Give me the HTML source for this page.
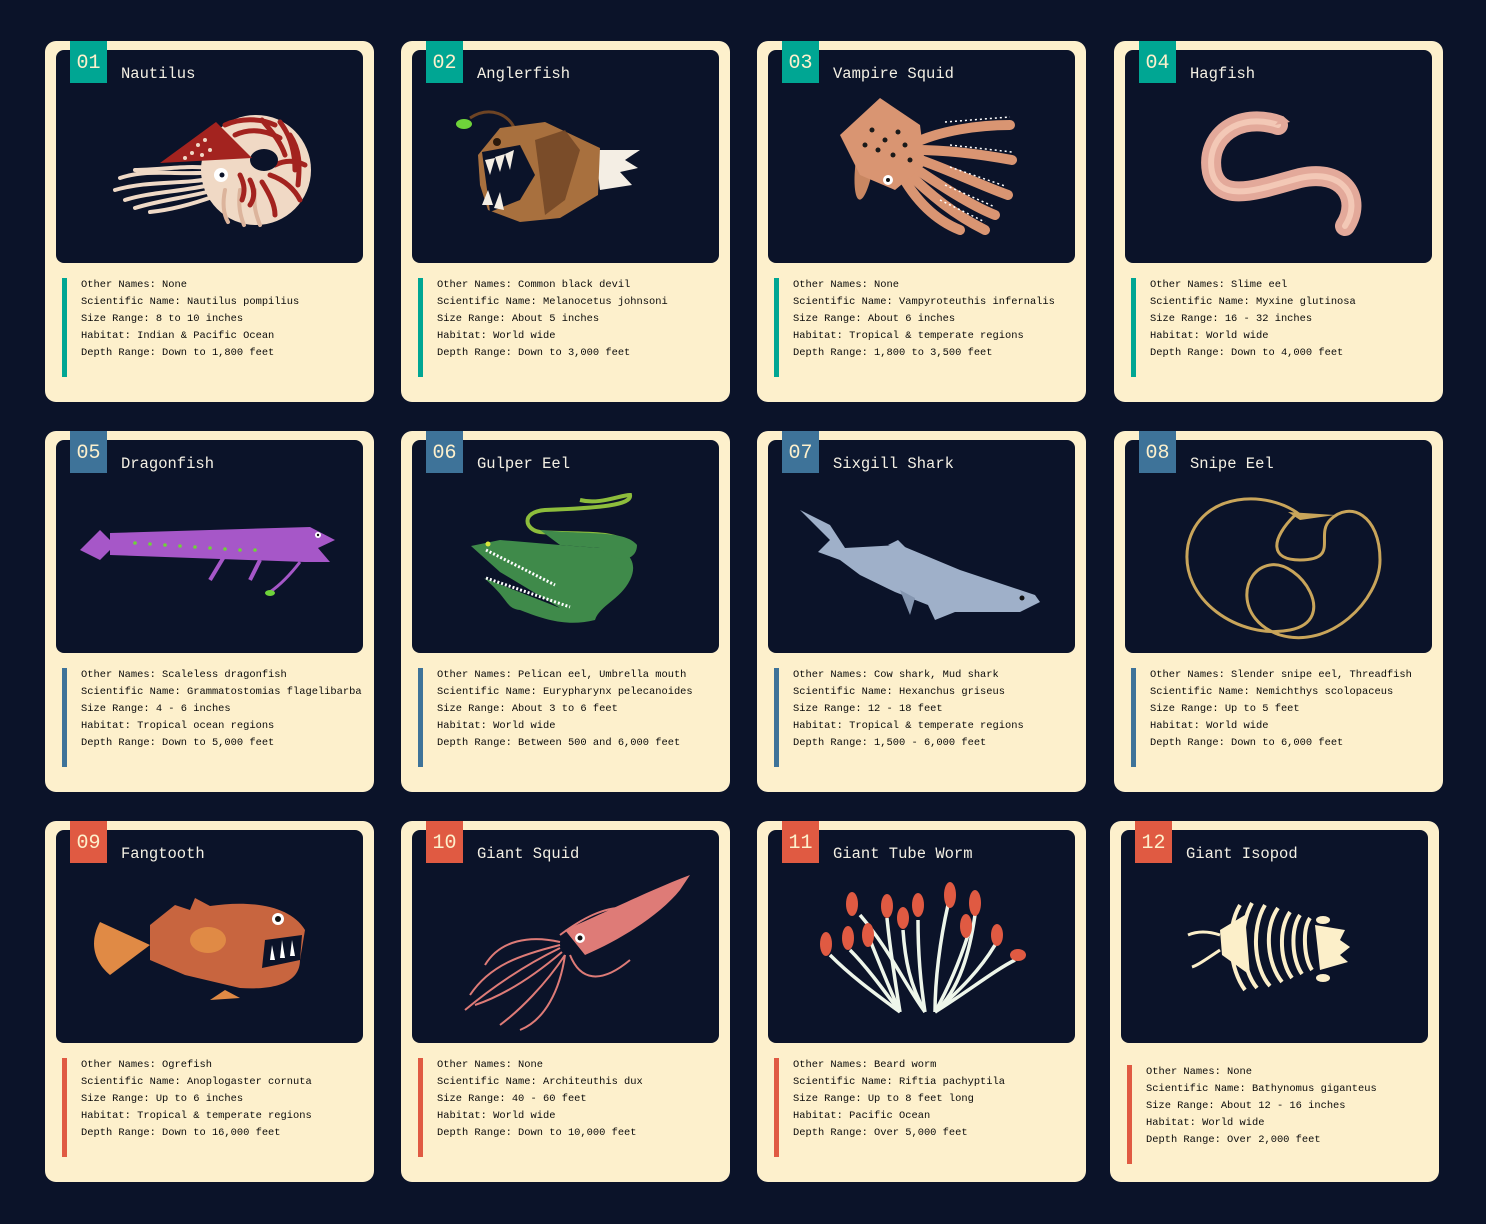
<!DOCTYPE html>
<html><head><meta charset="utf-8"><style>
html,body{margin:0;padding:0;background:#0b1329;width:1486px;height:1224px;overflow:hidden}
.card{position:absolute;width:329px;height:361px;background:#fdf0cc;border-radius:11px}
.panel{position:absolute;left:11px;top:9px;width:307px;height:213px;background:#0b1329;border-radius:8px}
.badge{position:absolute;left:25px;top:0;width:37px;height:42px;color:#fdf0cc;font:20px "Liberation Mono",monospace;text-align:center;line-height:46px}
.title{position:absolute;left:76px;top:24px;color:#f4f0e4;font:15.5px "Liberation Mono",monospace}
.bar{position:absolute;left:17px;top:237px;width:5px;height:99px}
.info{position:absolute;left:36px;top:236px;color:#0a0a0a;font:10.4px/17px "Liberation Mono",monospace;white-space:pre}
svg#art{position:absolute;left:0;top:0}
</style></head><body>
<div id="cards"></div>
<svg id="art" width="1486" height="1224">
<g>
 <g stroke="#efd9c6" stroke-width="4" stroke-linecap="round" fill="none">
  <path d="M215,172 C180,176 150,168 120,178"/><path d="M215,178 C180,185 150,180 115,190"/>
  <path d="M215,184 C180,192 150,192 125,200"/><path d="M215,190 C185,198 160,200 135,208"/>
  <path d="M210,168 C185,165 160,170 135,170"/><path d="M215,196 C190,205 170,210 150,212"/>
 </g>
 <circle cx="256" cy="170" r="55" fill="#f0d9c5"/>
 <g stroke="#dcb49c" stroke-width="4" fill="none" stroke-linecap="round"><path d="M225,190 C222,205 224,215 228,222"/><path d="M240,190 C238,205 240,215 244,225"/><path d="M255,190 C253,205 256,215 260,225"/></g>
 <g stroke="#a3231f" stroke-width="5" fill="none" stroke-linecap="round">
  <path d="M225,125 C240,118 260,118 275,125"/><path d="M235,135 C250,128 265,130 280,138"/>
  <path d="M262,120 C270,130 280,140 285,155"/><path d="M280,122 C290,135 295,150 295,170"/>
  <path d="M290,135 C300,150 300,165 298,185"/><path d="M270,175 C285,180 295,190 300,200"/>
  <path d="M262,182 C270,195 275,205 275,215"/><path d="M250,180 C255,190 255,198 250,205"/>
  <path d="M240,175 C245,185 245,192 242,200"/><path d="M275,165 C285,160 295,160 305,165"/>
 </g>
 <ellipse cx="264" cy="160" rx="14" ry="11" fill="#0b1329"/>
 <polygon points="160,163 216,122 252,158" fill="#a3231f"/>
 <g fill="#f0d9c5"><circle cx="198" cy="145" r="2"/><circle cx="205" cy="140" r="2"/><circle cx="192" cy="153" r="2"/><circle cx="210" cy="150" r="2"/><circle cx="185" cy="158" r="2"/><circle cx="202" cy="155" r="2"/></g>
 <circle cx="221" cy="175" r="7" fill="#fff"/><circle cx="222" cy="175" r="2.5" fill="#0b1329"/>
</g>
<g>
 <path d="M470,118 C490,105 510,115 515,130" stroke="#6e4424" stroke-width="3" fill="none"/>
 <ellipse cx="464" cy="124" rx="8" ry="5" fill="#6fd33a"/>
 <path d="M595,150 L640,150 L625,160 L638,168 L620,172 L632,185 L600,190 Z" fill="#f4eee4"/>
 <path d="M478,155 L500,128 L545,122 L600,148 L598,195 L560,218 L520,222 L488,210 L480,185 Z" fill="#a8703e"/>
 <path d="M482,152 L520,145 L535,175 L520,200 L490,212 Z" fill="#0b1329"/>
 <g fill="#f4eee4"><polygon points="485,160 490,175 495,158"/><polygon points="495,157 500,172 505,154"/><polygon points="505,154 510,170 514,150"/><polygon points="482,205 488,190 493,205"/><polygon points="494,208 500,192 504,210"/></g>
 <path d="M535,140 L565,130 L580,150 L565,200 L545,215 Z" fill="#6e4424" opacity=".8"/>
 <circle cx="497" cy="142" r="4" fill="#2b1a0c"/>
</g>
<g>
 <ellipse cx="865" cy="160" rx="9" ry="40" fill="#c98762" transform="rotate(8 865 160)"/>
 <g stroke="#d99572" stroke-width="10" stroke-linecap="round" fill="none">
  <path d="M910,145 C940,130 980,125 1010,125"/><path d="M915,150 C950,150 985,155 1012,160"/>
  <path d="M915,158 C950,170 980,185 1008,195"/><path d="M910,165 C940,185 970,205 995,215"/>
  <path d="M905,170 C930,195 955,215 985,230"/><path d="M900,172 C915,200 935,220 960,230"/>
 </g>
 <path d="M840,135 L880,98 L920,125 L925,165 L895,190 L860,175 Z" fill="#d99572"/>
 <g fill="#1a1a1a"><circle cx="872" cy="130" r="2.5"/><circle cx="885" cy="140" r="2.5"/><circle cx="898" cy="132" r="2.5"/><circle cx="878" cy="150" r="2.5"/><circle cx="893" cy="155" r="2.5"/><circle cx="905" cy="145" r="2.5"/><circle cx="910" cy="160" r="2.5"/><circle cx="865" cy="145" r="2.5"/></g>
 <circle cx="888" cy="180" r="5" fill="#fff"/><circle cx="888" cy="180" r="2" fill="#111"/>
 <g stroke="#fff" stroke-width="1.5" stroke-dasharray="2 3"><path d="M945,122 L1010,117"/><path d="M950,145 L1012,152"/><path d="M950,167 L1005,186"/><path d="M945,185 L995,207"/><path d="M940,200 L985,222"/></g>
</g>
<g>
 <path d="M1278,125 C1240,112 1205,135 1212,172 C1220,205 1262,188 1300,178 C1345,168 1362,200 1345,226" stroke="#e3a99a" stroke-width="20" fill="none" stroke-linecap="round"/>
 <path d="M1278,125 C1240,112 1205,135 1212,172 C1220,205 1262,188 1300,178 C1345,168 1362,200 1345,226" stroke="#f3c8b6" stroke-width="6" fill="none" stroke-linecap="round"/>
 <path d="M1275,125 L1290,122 L1283,116 Z" fill="#e3a99a"/>
</g>
<g>
 <polygon points="80,550 100,530 115,545 100,560" fill="#a657c8"/>
 <path d="M110,533 L310,527 L335,540 L318,548 L330,562 L305,562 L110,555 Z" fill="#a657c8"/>
 <path d="M225,555 L210,580" stroke="#a657c8" stroke-width="4"/><path d="M260,560 L250,580" stroke="#a657c8" stroke-width="4"/>
 <path d="M300,562 C290,575 280,585 270,592" stroke="#a657c8" stroke-width="3" fill="none"/>
 <ellipse cx="270" cy="593" rx="5" ry="3" fill="#6fd33a"/>
 <g fill="#6fd33a"><circle cx="135" cy="543" r="1.8"/><circle cx="150" cy="544" r="1.8"/><circle cx="165" cy="545" r="1.8"/><circle cx="180" cy="546" r="1.8"/><circle cx="195" cy="547" r="1.8"/><circle cx="210" cy="548" r="1.8"/><circle cx="225" cy="549" r="1.8"/><circle cx="240" cy="550" r="1.8"/><circle cx="255" cy="550" r="1.8"/></g>
 <circle cx="318" cy="535" r="3" fill="#fff"/><circle cx="318" cy="535" r="1.2" fill="#111"/>
</g>
<g>
 <path d="M580,500 C600,505 620,495 630,495 C632,505 600,508 545,510 C520,512 525,530 540,532 C580,535 615,530 630,545" stroke="#8dbd3c" stroke-width="4" fill="none"/>
 <path d="M471,546 L500,540 L560,545 L600,548 C625,545 640,560 630,580 C620,600 600,605 595,620 C570,626 550,622 520,610 C505,608 510,600 484,578 L560,608 L500,572 Z" fill="#3f8a4a"/>
 <path d="M540,530 C590,535 625,530 637,545 C637,560 620,565 600,548 L560,545 Z" fill="#3f8a4a"/>
 <circle cx="488" cy="544" r="2.5" fill="#d8e63a"/>
 <path d="M486,550 L555,585" stroke="#fff" stroke-width="3" stroke-dasharray="2 2"/>
 <path d="M486,578 L570,607" stroke="#fff" stroke-width="3" stroke-dasharray="2 2"/>
</g>
<g>
 <path d="M800,510 L830,525 L845,548 L900,545 L960,570 L1035,595 L1040,602 L1020,612 L955,612 L935,620 L928,605 L895,592 L860,575 L840,560 L818,552 L830,540 Z" fill="#9fb0c9"/>
 <path d="M888,545 L898,540 L910,552 Z" fill="#9fb0c9"/><path d="M900,590 L915,598 L910,615 Z" fill="#8596b0"/>
 <circle cx="1022" cy="598" r="2.5" fill="#111"/>
</g>
<g>
 <path d="M1300,515 C1270,490 1200,490 1188,545 C1178,600 1240,640 1290,630 C1340,620 1300,560 1270,565 C1240,570 1235,620 1280,635 C1330,650 1380,600 1380,560 C1380,515 1350,500 1330,520 C1315,535 1340,560 1300,560 C1270,560 1270,540 1295,515" stroke="#c9a55a" stroke-width="3" fill="none"/>
 <path d="M1288,512 L1335,515 L1300,520 Z" fill="#c9a55a"/>
</g>
<g>
 <path d="M150,945 L100,922 C90,940 92,960 110,975 Z" fill="#e08a45"/>
 <path d="M150,925 L175,905 L190,910 L195,898 L210,906 C250,900 290,905 305,930 L300,960 C300,985 270,990 240,988 L185,975 L150,960 Z" fill="#c8653f"/>
 <path d="M265,940 L302,935 L300,960 L262,968 Z" fill="#0b1329"/>
 <g fill="#fff"><polygon points="270,960 272,945 275,960"/><polygon points="280,958 282,940 285,958"/><polygon points="290,956 292,940 295,956"/></g>
 <path d="M225,990 L210,1000 L240,998 Z" fill="#e08a45"/>
 <ellipse cx="208" cy="940" rx="18" ry="13" fill="#e08a45"/>
 <circle cx="278" cy="919" r="6" fill="#fff"/><circle cx="278" cy="919" r="3" fill="#111"/>
</g>
<g>
 <path d="M565,930 C600,915 650,890 690,875 L680,890 C660,915 620,940 585,955 Z" fill="#de7b77"/>
 <circle cx="580" cy="938" r="5" fill="#fff"/><circle cx="580" cy="938" r="2.5" fill="#111"/>
 <g stroke="#de7b77" stroke-width="2" fill="none">
  <path d="M560,945 C520,955 490,965 470,995"/><path d="M560,948 C525,965 495,985 465,1010"/>
  <path d="M562,952 C535,975 505,995 475,1005"/><path d="M565,955 C545,985 520,1010 500,1025"/>
  <path d="M560,942 C530,935 500,940 485,965"/><path d="M565,955 C560,990 545,1020 520,1030"/>
  <path d="M560,935 C580,920 605,905 630,908"/><path d="M570,955 C580,980 600,985 630,960"/>
 </g>
</g>
<g>
 <g stroke="#eef6ea" stroke-width="3.5" fill="none">
  <path d="M900,1012 C870,990 850,975 830,955"/><path d="M900,1012 C880,985 865,965 850,950"/>
  <path d="M900,1012 C890,990 880,965 870,940"/><path d="M925,1012 C905,985 890,950 860,915"/>
  <path d="M900,1012 C895,980 890,950 887,918"/><path d="M925,1012 C910,985 905,960 903,930"/>
  <path d="M925,1012 C920,980 918,950 918,920"/><path d="M935,1012 C935,980 940,940 948,905"/>
  <path d="M935,1012 C950,985 960,960 968,935"/><path d="M935,1012 C960,990 970,950 975,915"/>
  <path d="M935,1012 C960,990 980,970 995,945"/><path d="M935,1012 C970,990 995,970 1015,960"/>
 </g>
 <g fill="#e05a42"><ellipse cx="826" cy="944" rx="6" ry="12"/><ellipse cx="848" cy="938" rx="6" ry="12"/><ellipse cx="868" cy="935" rx="6" ry="12"/><ellipse cx="852" cy="904" rx="6" ry="12"/><ellipse cx="887" cy="906" rx="6" ry="12"/><ellipse cx="903" cy="918" rx="6" ry="11"/><ellipse cx="918" cy="905" rx="6" ry="12"/><ellipse cx="950" cy="895" rx="6" ry="13"/><ellipse cx="975" cy="903" rx="6" ry="13"/><ellipse cx="966" cy="926" rx="6" ry="12"/><ellipse cx="997" cy="935" rx="6" ry="11"/><ellipse cx="1018" cy="955" rx="8" ry="6"/></g>
</g>
<g>
 <path d="M1220,930 L1245,915 L1250,975 L1222,955 Z" fill="#fcefc9"/>
 <path d="M1220,935 C1205,930 1195,932 1188,935 M1220,950 C1205,960 1198,965 1192,967" stroke="#fcefc9" stroke-width="3" fill="none"/>
 <g stroke="#fcefc9" stroke-width="4" fill="none">
  <path d="M1240,905 C1225,930 1230,970 1245,990"/><path d="M1252,903 C1237,930 1242,970 1257,988"/>
  <path d="M1265,905 C1250,930 1255,970 1270,986"/><path d="M1278,908 C1263,930 1268,965 1282,982"/>
  <path d="M1290,912 C1278,930 1280,962 1292,978"/><path d="M1300,915 C1290,930 1292,960 1302,974"/>
  <path d="M1310,918 C1302,930 1304,958 1312,970"/>
 </g>
 <path d="M1315,925 L1345,930 L1340,940 L1350,947 L1340,955 L1348,962 L1320,970 Z" fill="#fcefc9"/>
 <ellipse cx="1323" cy="920" rx="7" ry="4" fill="#fcefc9"/><ellipse cx="1323" cy="978" rx="7" ry="4" fill="#fcefc9"/>
</g>
</svg>
<script>
const names=["Nautilus","Anglerfish","Vampire Squid","Hagfish","Dragonfish","Gulper Eel","Sixgill Shark","Snipe Eel","Fangtooth","Giant Squid","Giant Tube Worm","Giant Isopod"];
const infos=[
["None","Nautilus pompilius","8 to 10 inches","Indian & Pacific Ocean","Down to 1,800 feet"],
["Common black devil","Melanocetus johnsoni","About 5 inches","World wide","Down to 3,000 feet"],
["None","Vampyroteuthis infernalis","About 6 inches","Tropical & temperate regions","1,800 to 3,500 feet"],
["Slime eel","Myxine glutinosa","16 - 32 inches","World wide","Down to 4,000 feet"],
["Scaleless dragonfish","Grammatostomias flagelibarba","4 - 6 inches","Tropical ocean regions","Down to 5,000 feet"],
["Pelican eel, Umbrella mouth","Eurypharynx pelecanoides","About 3 to 6 feet","World wide","Between 500 and 6,000 feet"],
["Cow shark, Mud shark","Hexanchus griseus","12 - 18 feet","Tropical & temperate regions","1,500 - 6,000 feet"],
["Slender snipe eel, Threadfish","Nemichthys scolopaceus","Up to 5 feet","World wide","Down to 6,000 feet"],
["Ogrefish","Anoplogaster cornuta","Up to 6 inches","Tropical & temperate regions","Down to 16,000 feet"],
["None","Architeuthis dux","40 - 60 feet","World wide","Down to 10,000 feet"],
["Beard worm","Riftia pachyptila","Up to 8 feet long","Pacific Ocean","Over 5,000 feet"],
["None","Bathynomus giganteus","About 12 - 16 inches","World wide","Over 2,000 feet"]];
const colors=["#00a693","#3e7399","#e05a42"];
const xs=[45,401,757,1114],ys=[41,431,821];
const root=document.getElementById('cards');
for(let i=0;i<12;i++){
 const r=Math.floor(i/4),c=i%4;
 const card=document.createElement('div');card.className='card';
 
 
 let x=xs[c],y=ys[r],top=236;
 if(i===11){x=1110;top=243;}
 card.style.left=x+'px';card.style.top=y+'px';
 const col=colors[r],inf=infos[i];
 card.innerHTML='<div class="panel"></div>'+
 '<div class="badge" style="background:'+col+'">'+String(i+1).padStart(2,'0')+'</div>'+
 '<div class="title">'+names[i]+'</div>'+
 '<div class="bar" style="background:'+col+';top:'+(top+1)+'px"></div>'+
 '<div class="info" style="top:'+top+'px">Other Names: '+inf[0]+'\nScientific Name: '+inf[1]+'\nSize Range: '+inf[2]+'\nHabitat: '+inf[3].replace('&','&amp;')+'\nDepth Range: '+inf[4]+'</div>';
 root.appendChild(card);
}
</script>
</body></html>
